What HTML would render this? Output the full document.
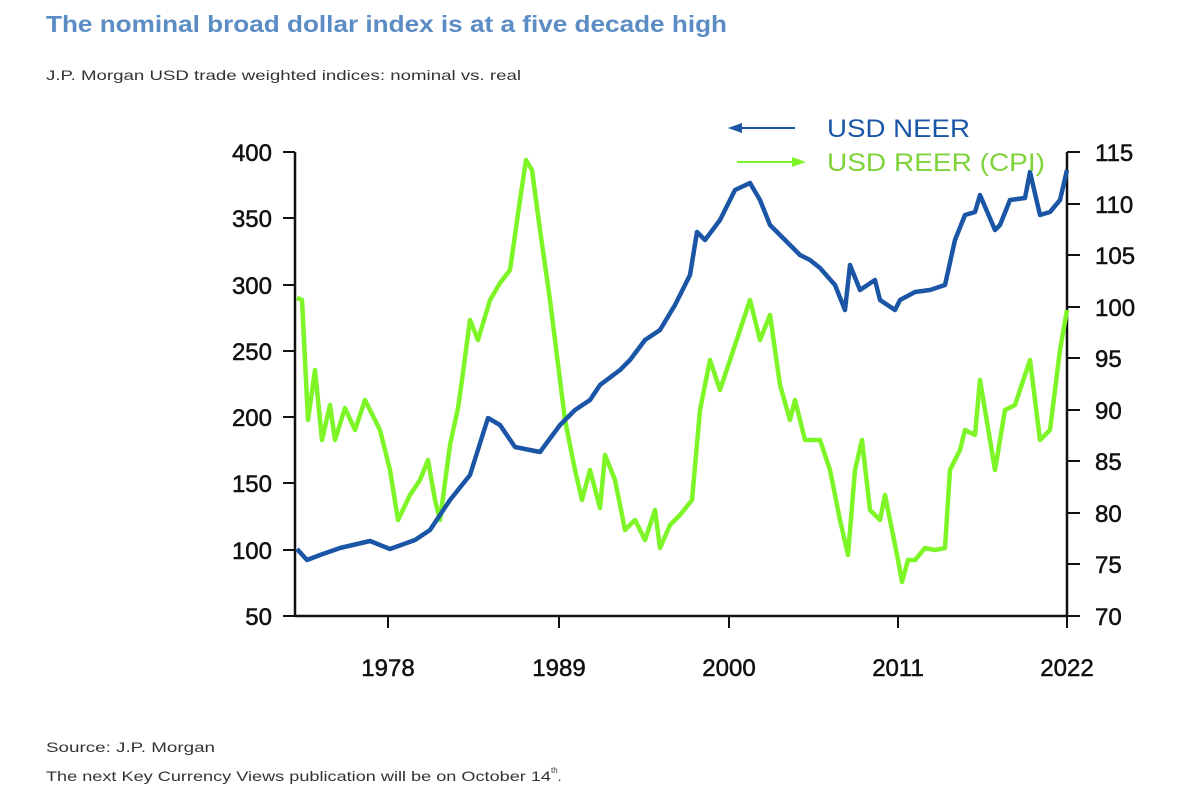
<!DOCTYPE html>
<html><head><style>body{margin:0;background:#fff;width:1200px;height:800px;overflow:hidden;font-family:"Liberation Sans",sans-serif}</style></head>
<body>
<svg width="1200" height="800" xmlns="http://www.w3.org/2000/svg" font-family="Liberation Sans, sans-serif">
<text x="46" y="32" font-size="23" font-weight="bold" fill="#5b8cc4" textLength="681" lengthAdjust="spacingAndGlyphs">The nominal broad dollar index is at a five decade high</text>
<text x="46" y="80" font-size="14" fill="#333" textLength="475" lengthAdjust="spacingAndGlyphs">J.P. Morgan USD trade weighted indices: nominal vs. real</text>
<g stroke="#111" stroke-width="2.5">
<line x1="295" y1="152" x2="295" y2="616"/><line x1="1067" y1="152" x2="1067" y2="616"/><line x1="295" y1="616" x2="1067" y2="616"/>
</g>
<g stroke="#111" stroke-width="2">
<line x1="283" y1="152" x2="295" y2="152"/><line x1="283" y1="218" x2="295" y2="218"/><line x1="283" y1="285" x2="295" y2="285"/><line x1="283" y1="351" x2="295" y2="351"/><line x1="283" y1="417" x2="295" y2="417"/><line x1="283" y1="483" x2="295" y2="483"/><line x1="283" y1="550" x2="295" y2="550"/><line x1="283" y1="616" x2="295" y2="616"/>
<line x1="1067" y1="152" x2="1080" y2="152"/><line x1="1067" y1="204" x2="1080" y2="204"/><line x1="1067" y1="255" x2="1080" y2="255"/><line x1="1067" y1="307" x2="1080" y2="307"/><line x1="1067" y1="358" x2="1080" y2="358"/><line x1="1067" y1="410" x2="1080" y2="410"/><line x1="1067" y1="461" x2="1080" y2="461"/><line x1="1067" y1="513" x2="1080" y2="513"/><line x1="1067" y1="564" x2="1080" y2="564"/><line x1="1067" y1="616" x2="1080" y2="616"/>
<line x1="388" y1="616" x2="388" y2="628"/><line x1="559" y1="616" x2="559" y2="628"/><line x1="729" y1="616" x2="729" y2="628"/><line x1="898" y1="616" x2="898" y2="628"/><line x1="1067" y1="616" x2="1067" y2="628"/>
</g>
<g font-size="24" fill="#111" stroke="#111" stroke-width="0.5" text-anchor="end">
<text x="272" y="161">400</text><text x="272" y="227">350</text><text x="272" y="294">300</text><text x="272" y="360">250</text><text x="272" y="426">200</text><text x="272" y="492">150</text><text x="272" y="559">100</text><text x="272" y="625">50</text>
</g>
<g font-size="24" fill="#111" stroke="#111" stroke-width="0.5">
<text x="1095" y="161">115</text><text x="1095" y="213">110</text><text x="1095" y="264">105</text><text x="1095" y="316">100</text><text x="1095" y="367">95</text><text x="1095" y="419">90</text><text x="1095" y="470">85</text><text x="1095" y="522">80</text><text x="1095" y="573">75</text><text x="1095" y="625">70</text>
</g>
<g font-size="24" fill="#111" stroke="#111" stroke-width="0.5" text-anchor="middle">
<text x="388" y="676">1978</text><text x="559" y="676">1989</text><text x="729" y="676">2000</text><text x="898" y="676">2011</text><text x="1067" y="676">2022</text>
</g>
<polyline fill="none" stroke="#7df526" stroke-width="4.5" stroke-linejoin="round" points="297,298 302,300 308,420 315,370 322,440 330,405 335,440 345,408 355,430 365,400 380,430 390,470 398,520 410,495 420,480 428,460 435,500 440,520 450,445 458,408 462,380 470,320 478,340 490,300 500,283 510,270 520,200 526,160 532,170 540,230 550,300 560,380 565,420 575,470 582,500 590,470 600,508 605,455 615,480 625,530 635,520 645,540 655,510 660,548 670,525 680,515 692,500 700,410 710,360 720,390 735,345 750,300 760,340 770,315 780,385 790,420 795,400 805,440 820,440 830,470 840,520 848,555 855,470 862,440 870,510 880,520 885,495 898,560 902,582 908,560 915,560 925,548 935,550 945,548 950,470 960,450 965,430 975,435 980,380 985,410 995,470 1005,410 1015,405 1030,360 1040,440 1050,430 1060,350 1067,310"/>
<polyline fill="none" stroke="#1b56a6" stroke-width="4.5" stroke-linejoin="round" points="297,549 307,560 320,555 340,548 370,541 390,549 415,540 430,530 450,500 470,475 488,418 500,425 515,447 530,450 540,452 560,425 575,410 590,400 600,385 620,370 630,360 645,340 660,330 675,305 690,275 697,232 705,240 720,220 735,190 750,183 760,200 770,225 790,245 800,255 810,260 820,268 835,285 845,310 850,265 860,290 875,280 880,300 895,310 900,300 915,292 930,290 945,285 955,240 965,215 975,212 980,195 995,230 1000,225 1010,200 1025,198 1030,172 1040,215 1050,212 1060,200 1067,170"/>
<line x1="740" y1="128" x2="795" y2="128" stroke="#1b56a6" stroke-width="2"/><polygon points="728,128 742,123 742,133" fill="#1b56a6"/>
<text x="827" y="137" font-size="25" fill="#1b56a6" textLength="143" lengthAdjust="spacingAndGlyphs">USD NEER</text>
<line x1="737" y1="162" x2="792" y2="162" stroke="#7df526" stroke-width="2"/><polygon points="806,162 792,157 792,167" fill="#7df526"/>
<text x="827" y="171" font-size="25" fill="#7ed33a" textLength="218" lengthAdjust="spacingAndGlyphs">USD REER (CPI)</text>
<text x="46" y="752" font-size="14" fill="#333" textLength="169" lengthAdjust="spacingAndGlyphs">Source: J.P. Morgan</text>
<text x="46" y="781" font-size="14" fill="#333"><tspan textLength="505" lengthAdjust="spacingAndGlyphs">The next Key Currency Views publication will be on October 14</tspan><tspan font-size="8" dy="-8">th</tspan><tspan dy="8">.</tspan></text>
</svg>
</body></html>
